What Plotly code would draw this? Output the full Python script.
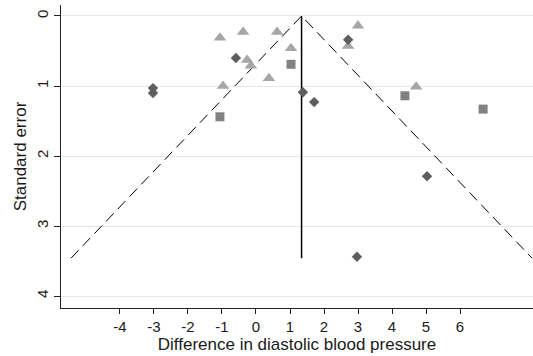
import plotly.graph_objects as go

# Data
tri_x = [-1.06, -0.38, 0.62, 1.03, 3.0, 2.71, -0.26, -0.15, 0.38, -0.97, 4.71]
tri_se = [0.31, 0.23, 0.23, 0.46, 0.14, 0.43, 0.63, 0.71, 0.89, 1.0, 1.01]

dia_x = [-0.59, 2.71, 1.38, 1.71, -3.03, -3.03, 5.03, 2.97]
dia_se = [0.60, 0.34, 1.09, 1.23, 1.03, 1.10, 2.29, 3.44]

sq_x = [1.03, -1.06, 4.38, 6.68]
sq_se = [0.69, 1.44, 1.14, 1.33]

pooled = 1.34
se_max = 3.46

x_ticks = [-4, -3, -2, -1, 0, 1, 2, 3, 4, 5, 6]
y_ticks = [0, 1, 2, 3, 4]

fig = go.Figure()

# funnel limits
fig.add_trace(go.Scatter(
    x=[pooled - 1.96 * se_max, pooled, pooled + 1.96 * se_max],
    y=[se_max, 0, se_max],
    mode="lines", line=dict(color="black", width=1, dash="11px,6px"),
    showlegend=False, hoverinfo="skip"))
fig.add_trace(go.Scatter(
    x=[pooled, pooled], y=[0, se_max],
    mode="lines", line=dict(color="black", width=1.5),
    showlegend=False, hoverinfo="skip"))

fig.add_trace(go.Scatter(x=tri_x, y=tri_se, mode="markers",
                         marker=dict(symbol="triangle-up", size=11, color="#a6a6a6"),
                         showlegend=False))
fig.add_trace(go.Scatter(x=sq_x, y=sq_se, mode="markers",
                         marker=dict(symbol="square", size=9, color="#828282"),
                         showlegend=False))
fig.add_trace(go.Scatter(x=dia_x, y=dia_se, mode="markers",
                         marker=dict(symbol="diamond", size=8, color="#5e5e5e"),
                         showlegend=False))

font = dict(family="Liberation Sans, Arial, sans-serif", size=15, color="#1a1a1a")

fig.update_layout(
    width=533, height=356,
    margin=dict(l=61, r=0, t=5, b=48),
    paper_bgcolor="white", plot_bgcolor="white",
    font=font,
    xaxis=dict(range=[-5.735, 8.147], tickvals=x_ticks, ticktext=[str(v) for v in x_ticks],
               automargin=False,
               showgrid=False, zeroline=False, showline=True, linecolor="#222", linewidth=1.3,
               ticks="outside", ticklen=5, tickcolor="#222", tickfont=dict(size=15),
               title=dict(text="Difference in diastolic blood pressure", font=dict(size=17), standoff=0)),
    yaxis=dict(range=[4.171, -0.157], tickvals=y_ticks, ticktext=[str(v) for v in y_ticks],
               automargin=False,
               showgrid=True, gridcolor="#e6e6e6", gridwidth=1, zeroline=False,
               showline=True, linecolor="#222", linewidth=1.3,
               ticks="outside", ticklen=6, tickcolor="#222", tickangle=-90, tickfont=dict(size=15),
               title=dict(text="Standard error", font=dict(size=17), standoff=2)),
)

fig.write_html("out.html", config={"displayModeBar": False},
               post_script="document.body.style.margin='0px';document.body.style.overflow='hidden';")
